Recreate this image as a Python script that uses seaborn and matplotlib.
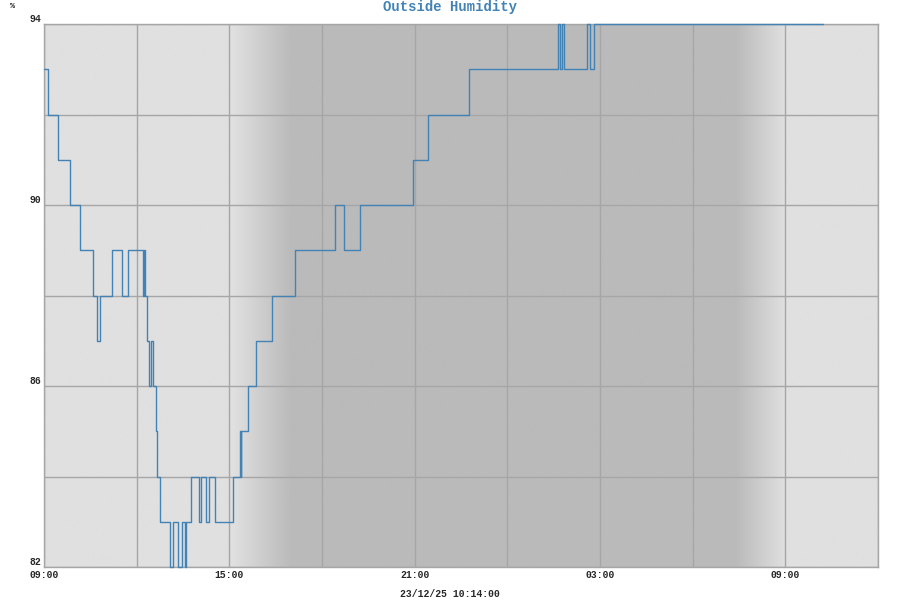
import numpy as np
import pandas as pd
import matplotlib
matplotlib.use("Agg")
import matplotlib.pyplot as plt
import matplotlib.dates as mdates
import seaborn as sns

# step changes of the humidity reading (time, %)
times = [
    "2025-12-22 09:00", "2025-12-22 09:08", "2025-12-22 09:28", "2025-12-22 09:51",
    "2025-12-22 10:09", "2025-12-22 10:35", "2025-12-22 10:43", "2025-12-22 10:48",
    "2025-12-22 11:12", "2025-12-22 11:32", "2025-12-22 11:44", "2025-12-22 12:12",
    "2025-12-22 12:14", "2025-12-22 12:16", "2025-12-22 12:20", "2025-12-22 12:23",
    "2025-12-22 12:28", "2025-12-22 12:31", "2025-12-22 12:37", "2025-12-22 12:40",
    "2025-12-22 12:46", "2025-12-22 13:05", "2025-12-22 13:10", "2025-12-22 13:21",
    "2025-12-22 13:29", "2025-12-22 13:33", "2025-12-22 13:36", "2025-12-22 13:45",
    "2025-12-22 14:02", "2025-12-22 14:05", "2025-12-22 14:15", "2025-12-22 14:20",
    "2025-12-22 14:33", "2025-12-22 15:07", "2025-12-22 15:20", "2025-12-22 15:22",
    "2025-12-22 15:23", "2025-12-22 15:36", "2025-12-22 15:51", "2025-12-22 16:23",
    "2025-12-22 17:08", "2025-12-22 18:26", "2025-12-22 18:42", "2025-12-22 19:13",
    "2025-12-22 20:56", "2025-12-22 21:25", "2025-12-22 22:45", "2025-12-23 01:38",
    "2025-12-23 01:42", "2025-12-23 01:46", "2025-12-23 01:50", "2025-12-23 02:35",
    "2025-12-23 02:40", "2025-12-23 02:48", "2025-12-23 10:14",
]
humidity = [
    93, 92, 91, 90,
    89, 88, 87, 88,
    89, 88, 89, 88,
    89, 88, 87, 86,
    87, 86, 85, 84,
    83, 82, 83, 82,
    83, 82, 83, 84,
    83, 84, 83, 84,
    83, 84, 85, 84,
    85, 86, 87, 88,
    89, 90, 89, 90,
    91, 92, 93, 94,
    93, 94, 93, 94,
    93, 94, 94,
]

x_start = "2025-12-22 09:00"
x_end = "2025-12-23 12:00"
y_ticks = [82, 86, 90, 94]
y_grid = [82, 84, 86, 88, 90, 92, 94]

# day/night shading
dusk = ("2025-12-22 15:06", "2025-12-22 17:00")
dawn = ("2025-12-23 07:25", "2025-12-23 09:02")
day_grey = 0.878
night_grey = 0.73

line_col = "#4282b4"
grid_col = "#a6a6a6"

df = pd.DataFrame({"time": pd.to_datetime(times), "humidity": humidity})

sns.set_style("white")
plt.rcParams["font.family"] = ["Liberation Mono", "DejaVu Sans Mono"]
plt.rcParams["font.weight"] = "bold"

fig = plt.figure(figsize=(9, 6), dpi=100)
ax = fig.add_axes([44 / 900, 1 - 567 / 600, (878 - 44) / 900, (567 - 24) / 600])

# background gradient
t0, t1 = pd.Timestamp(x_start), pd.Timestamp(x_end)
grid_t = pd.date_range(t0, t1, freq="1min")
mins = (grid_t - t0).total_seconds().values / 60
def m(s):
    return (pd.Timestamp(s) - t0).total_seconds() / 60
shade = np.full(len(mins), day_grey)
d0, d1 = m(dusk[0]), m(dusk[1])
w0, w1 = m(dawn[0]), m(dawn[1])
ramp = (mins - d0) / (d1 - d0)
shade = np.where((mins >= d0) & (mins < d1), day_grey + (night_grey - day_grey) * ramp, shade)
shade = np.where((mins >= d1) & (mins < w0), night_grey, shade)
ramp2 = (mins - w0) / (w1 - w0)
shade = np.where((mins >= w0) & (mins < w1), night_grey + (day_grey - night_grey) * ramp2, shade)
ax.imshow(shade[np.newaxis, :], cmap="gray", vmin=0, vmax=1, aspect="auto",
          extent=[mdates.date2num(t0), mdates.date2num(t1), 82, 94],
          interpolation="bilinear", zorder=0)

for yv in y_grid:
    ax.axhline(yv, color=grid_col, lw=1, zorder=1)
for tv in pd.date_range(t0, t1, freq="3h"):
    ax.axvline(tv, color=grid_col, lw=1, zorder=1)

sns.lineplot(data=df, x="time", y="humidity", ax=ax, color=line_col,
             drawstyle="steps-post", linewidth=1, zorder=3, clip_on=False)

ax.set_xlim(t0, t1)
ax.set_ylim(82, 94)
ax.set_xlabel("")
ax.set_ylabel("")
ax.set_yticks(y_ticks)
ax.set_yticklabels([str(v) for v in y_ticks], fontsize=7, fontweight="bold", va="bottom")
ax.xaxis.set_major_locator(mdates.HourLocator(byhour=[3, 9, 15, 21]))
ax.xaxis.set_major_formatter(mdates.DateFormatter("%H:%M"))
ax.tick_params(axis="both", length=0, labelsize=7, pad=2)
for lab in ax.get_xticklabels():
    lab.set_fontweight("bold")
for s in ax.spines.values():
    s.set_color(grid_col)
    s.set_linewidth(1)

fig.text(0.5, 1 - 7 / 600, "Outside Humidity", ha="center", va="center",
         fontsize=10, fontweight="bold", color=line_col)
fig.text(12 / 900, 1 - 6 / 600, "%", ha="center", va="center", fontsize=6, fontweight="bold")
fig.text(0.5, 1 - 594 / 600, "23/12/25 10:14:00", ha="center", va="center",
         fontsize=7, fontweight="bold")

fig.savefig("out.png", dpi=100)
